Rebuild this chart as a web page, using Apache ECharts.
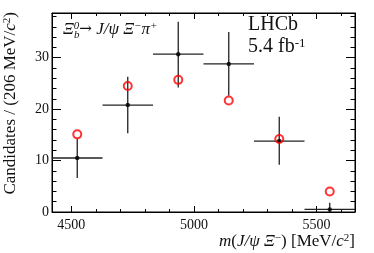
<!DOCTYPE html>
<html><head><meta charset="utf-8">
<script src="https://cdn.jsdelivr.net/npm/echarts@6/dist/echarts.min.js"></script>
<style>html,body{margin:0;padding:0;background:#fff}#c{width:374px;height:253px}</style>
</head><body><div id="c"></div>
<script>
const binCenters = [4524, 4730, 4936, 5142, 5348, 5554];
const binWidth = 206;
const counts = [10.5, 20.8, 30.7, 28.8, 13.8, 0.5];
const errLow = [6.6, 15.3, 24.2, 22.6, 9.2, 0];
const errHigh = [14.2, 26.3, 37.0, 35.0, 18.5, 1.8];
const fitValues = [15.1, 24.5, 25.7, 21.7, 14.2, 4.0];
const xMajorTicks = [4500, 5000, 5500];
const xMinorTicks = [4500, 4600, 4700, 4800, 4900, 5000, 5100, 5200, 5300, 5400, 5500, 5600];
const yMajorTicks = [0, 10, 20, 30];
const yMinorTicks = [0,2,4,6,8,10,12,14,16,18,20,22,24,26,28,30,32,34,36,38];
const xMin = 4421, xMax = 5657, yMin = 0, yMax = 38.7;

const FONT = 'Liberation Serif';
const chart = echarts.init(document.getElementById('c'), null, {renderer: 'canvas'});
const gridRect = {left: 52, right: 19, top: 13, bottom: 41};

function xAx(grid, pos, ticks, len, labels, line) {
  return {type: 'value', gridIndex: grid, position: pos, offset: 0, min: xMin, max: xMax,
    axisLine: {show: line, onZero: false, lineStyle: {color: '#000', width: 1}},
    axisTick: {show: true, inside: true, length: len, customValues: ticks, lineStyle: {color: '#000', width: 1}},
    axisLabel: {show: labels, customValues: ticks, margin: 6, color: '#111', fontFamily: FONT, fontSize: 14,
      formatter: v => String(v)},
    splitLine: {show: false}};
}
function yAx(grid, pos, ticks, len, labels, line) {
  return {type: 'value', gridIndex: grid, position: pos, offset: 0, min: yMin, max: yMax,
    axisLine: {show: line, onZero: false, lineStyle: {color: '#000', width: 1}},
    axisTick: {show: true, inside: true, length: len, customValues: ticks, lineStyle: {color: '#000', width: 1}},
    axisLabel: {show: labels, customValues: ticks, margin: 3, color: '#111', fontFamily: FONT, fontSize: 14,
      formatter: v => String(v)},
    splitLine: {show: false}};
}

const errData = binCenters.map((c, i) => [c, counts[i], errLow[i], errHigh[i]]);

const option = {
  animation: false,
  grid: [Object.assign({show: true, borderColor: '#000', borderWidth: 1, backgroundColor: 'rgba(0,0,0,0)'}, gridRect),
         Object.assign({}, gridRect)],
  xAxis: [
    xAx(0, 'bottom', xMajorTicks, 6, true, true),
    xAx(0, 'top', xMajorTicks, 6, false, true),
    xAx(1, 'bottom', xMinorTicks, 3, false, false),
    xAx(1, 'top', xMinorTicks, 3, false, false)
  ],
  yAxis: [
    yAx(0, 'left', yMajorTicks, 9, true, true),
    yAx(0, 'right', yMajorTicks, 9, false, true),
    yAx(1, 'left', yMinorTicks, 4.5, false, false),
    yAx(1, 'right', yMinorTicks, 4.5, false, false)
  ],
  series: [
    {
      type: 'custom', xAxisIndex: 0, yAxisIndex: 0, data: errData,
      renderItem: function (params, api) {
        const c = api.value(0);
        const pL = api.coord([c - binWidth / 2, api.value(1)]);
        const pR = api.coord([c + binWidth / 2, api.value(1)]);
        const pLo = api.coord([c, api.value(2)]);
        const pHi = api.coord([c, api.value(3)]);
        const st = {stroke: '#222', lineWidth: 1.3};
        return {type: 'group', children: [
          {type: 'line', shape: {x1: pL[0], y1: pL[1], x2: pR[0], y2: pR[1]}, style: st},
          {type: 'line', shape: {x1: pLo[0], y1: pLo[1], x2: pHi[0], y2: pHi[1]}, style: st}
        ]};
      },
      clip: true, z: 2
    },
    {
      type: 'scatter', xAxisIndex: 0, yAxisIndex: 0,
      data: binCenters.map((c, i) => [c, counts[i]]),
      symbol: 'circle', symbolSize: 4.5, itemStyle: {color: '#000'}, z: 3
    },
    {
      type: 'scatter', xAxisIndex: 0, yAxisIndex: 0,
      data: binCenters.map((c, i) => [c, fitValues[i]]),
      symbol: 'circle', symbolSize: 8,
      itemStyle: {color: 'rgba(255,255,255,0)', borderColor: '#ff0000', borderWidth: 2}, z: 4
    },
    {type: 'scatter', xAxisIndex: 1, yAxisIndex: 1, data: []},
    {type: 'scatter', xAxisIndex: 2, yAxisIndex: 2, data: []},
    {type: 'scatter', xAxisIndex: 3, yAxisIndex: 3, data: []}
  ],
  graphic: [
    {type: 'text', x: 248, y: 35, z: 10, style: {text: 'LHCb', fontFamily: FONT, fontSize: 20, fill: '#111', verticalAlign: 'bottom'}},
    {type: 'text', x: 248, y: 57, z: 10, style: {
      text: '{n|5.4 fb}{s|-1}', verticalAlign: 'bottom', fill: '#111',
      rich: {n: {fontFamily: FONT, fontSize: 20, fill: '#111', verticalAlign: 'bottom'},
             s: {fontFamily: FONT, fontSize: 13, fill: '#111', verticalAlign: 'top'}}}},
    {type: 'text', x: 63, y: 38, z: 10, style: {
      text: '{i|\u039E}{s|0}{a|\u2192}{i| J/\u03C8 \u039E}{s|\u2212}{i|\u03C0}{s|+}', verticalAlign: 'bottom', fill: '#111',
      rich: {i: {fontFamily: FONT, fontStyle: 'italic', fontSize: 17, fill: '#111', verticalAlign: 'bottom'},
             a: {fontFamily: 'DejaVu Serif', fontSize: 15, fill: '#111', verticalAlign: 'bottom', padding: [0, 0, 1, 0]},
             s: {fontFamily: FONT, fontStyle: 'italic', fontSize: 11, fill: '#111', verticalAlign: 'top'}}}},
    {type: 'text', x: 74, y: 41, z: 10, style: {text: 'b', fontFamily: FONT, fontStyle: 'italic', fontSize: 11, fill: '#111', verticalAlign: 'bottom'}},
    {type: 'text', x: 355, y: 250, z: 10, style: {
      text: '{i|m}{n|(}{i|J/\u03C8 \u039E}{s|\u2212}{n|) [MeV/}{i|c}{s|2}{n|]}', align: 'right', verticalAlign: 'bottom', fill: '#111',
      rich: {i: {fontFamily: FONT, fontStyle: 'italic', fontSize: 17, fill: '#111', verticalAlign: 'bottom'},
             n: {fontFamily: FONT, fontSize: 17, fill: '#111', verticalAlign: 'bottom'},
             s: {fontFamily: FONT, fontSize: 11, fill: '#111', verticalAlign: 'top'}}}},
    {type: 'text', x: 2, y: 12, rotation: Math.PI / 2, z: 10, style: {
      text: '{n|Candidates / (206 MeV/}{i|c}{s|2}{n|)}', align: 'right', verticalAlign: 'top', fill: '#111',
      rich: {i: {fontFamily: FONT, fontStyle: 'italic', fontSize: 17, fill: '#111', verticalAlign: 'bottom'},
             n: {fontFamily: FONT, fontSize: 17, fill: '#111', verticalAlign: 'bottom'},
             s: {fontFamily: FONT, fontSize: 11, fill: '#111', verticalAlign: 'top'}}}}
  ]
};
chart.setOption(option);
</script></body></html>
